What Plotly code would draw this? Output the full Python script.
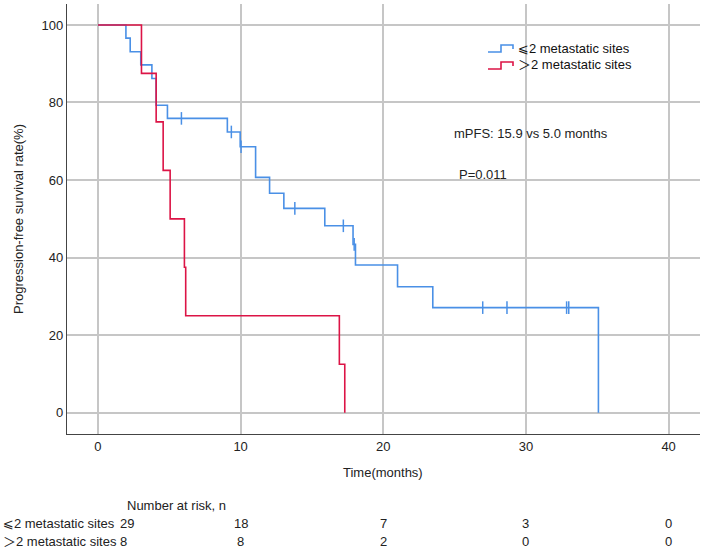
import plotly.graph_objects as go

# ---------------- data ----------------
blue_time = [0, 1.96, 2.26, 3.0, 3.78, 4.08, 4.87, 9.07, 9.97, 11.05, 12.03, 13.03, 15.9, 17.88, 18.05, 21.0, 23.47, 35.08]
blue_surv = [100, 96.6, 93.1, 89.7, 86.2, 79.3, 75.9, 72.4, 68.6, 60.7, 56.6, 52.7, 48.2, 43.4, 38.1, 32.5, 27.1, 0]
blue_cens_time = [5.85, 9.35, 10.03, 13.8, 17.2, 17.96, 26.97, 28.67, 32.85, 33.0]
blue_cens_surv = [75.9, 72.4, 68.6, 52.7, 48.2, 43.4, 27.1, 27.1, 27.1, 27.1]

red_time = [0, 3.05, 4.08, 4.57, 5.06, 6.06, 6.15, 16.92, 17.3]
red_surv = [100, 87.5, 75, 62.5, 50, 37.5, 25, 12.5, 0]

x_ticks = [0, 10, 20, 30, 40]
y_ticks = [0, 20, 40, 60, 80, 100]

group_labels = ["⩽2 metastatic sites", "＞2 metastatic sites"]
risk_times = [0, 10, 20, 30, 40]
risk_blue = [29, 18, 7, 3, 0]
risk_red = [8, 8, 2, 0, 0]

BLUE = "#4a90e6"
RED = "#dc1446"
FONT = "Liberation Sans, Arial, DejaVu Sans, Noto Sans CJK SC, sans-serif"

W, H = 704, 553
L, R, T, B = 67, 4, 4, 119
PW, PH = W - L - R, H - T - B


def px(x):
    return (x - L) / PW


def py(y):
    return (H - B - y) / PH


fig = go.Figure()
fig.add_trace(go.Scatter(x=blue_time, y=blue_surv, mode="lines", line_shape="hv",
                         line=dict(color=BLUE, width=1.6), showlegend=False, hoverinfo="skip"))
fig.add_trace(go.Scatter(x=blue_cens_time, y=blue_cens_surv, mode="markers",
                         marker=dict(symbol="line-ns", size=9, line=dict(color=BLUE, width=1.5)),
                         showlegend=False, hoverinfo="skip"))
fig.add_trace(go.Scatter(x=red_time, y=red_surv, mode="lines", line_shape="hv",
                         line=dict(color=RED, width=1.6), showlegend=False, hoverinfo="skip"))

axis_common = dict(showgrid=True, gridcolor="#c6c6c6", gridwidth=1.5, zeroline=False,
                   showline=True, linecolor="#444444", linewidth=1.2, ticks="",
                   tickfont=dict(family=FONT, size=13, color="#222222"), mirror=False)

fig.update_layout(
    width=W, height=H,
    margin=dict(l=L, r=R, t=T, b=B),
    paper_bgcolor="white", plot_bgcolor="white",
    font=dict(family=FONT, size=13, color="#222222"),
    xaxis=dict(range=[-2.17, 42.2], tickvals=x_ticks, **axis_common),
    yaxis=dict(range=[-5.49, 105.4], tickvals=y_ticks, **axis_common),
)

ann = []
# axis titles
ann.append(dict(text="Time(months)", x=px(383), y=py(472), xref="paper", yref="paper",
                showarrow=False, xanchor="center", yanchor="middle", font=dict(size=13)))
ann.append(dict(text="Progression-free survival rate(%)", x=px(18), y=py(219), xref="paper", yref="paper",
                showarrow=False, xanchor="center", yanchor="middle", textangle=-90, font=dict(size=13)))
# text notes
ann.append(dict(text="mPFS: 15.9 vs 5.0 months", x=px(452), y=py(133), xref="paper", yref="paper",
                showarrow=False, xanchor="left", yanchor="middle", font=dict(size=13)))
ann.append(dict(text="P=0.011", x=px(457), y=py(174), xref="paper", yref="paper",
                showarrow=False, xanchor="left", yanchor="middle", font=dict(size=13)))
# custom legend
legend_rows = [(48, BLUE, group_labels[0]), (65, RED, group_labels[1])]
shapes = []
for yy, col, lab in legend_rows:
    path = "M {} {} L {} {} L {} {} L {} {} L {} {}".format(
        px(488), py(yy + 4), px(501), py(yy + 4), px(501), py(yy - 3), px(513), py(yy - 3), px(513), py(yy + 1))
    shapes.append(dict(type="path", path=path, xref="paper", yref="paper",
                       line=dict(color=col, width=1.6)))
    ann.append(dict(text=lab, x=px(516), y=py(yy), xref="paper", yref="paper",
                    showarrow=False, xanchor="left", yanchor="middle", font=dict(size=13, color="#111111")))

# number at risk table
ann.append(dict(text="Number at risk, n", x=px(125), y=py(505), xref="paper", yref="paper",
                showarrow=False, xanchor="left", yanchor="middle", font=dict(size=13)))
for row_y, lab, vals in [(523, group_labels[0], risk_blue), (541, group_labels[1], risk_red)]:
    ann.append(dict(text=lab, x=px(1), y=py(row_y), xref="paper", yref="paper",
                    showarrow=False, xanchor="left", yanchor="middle", font=dict(size=13)))
    for t, v in zip(risk_times, vals):
        if t == 0:
            ann.append(dict(text=str(v), x=px(118), y=py(row_y), xref="paper", yref="paper",
                            showarrow=False, xanchor="left", yanchor="middle", font=dict(size=13)))
        else:
            ann.append(dict(text=str(v), x=t, y=py(row_y), xref="x", yref="paper",
                            showarrow=False, xanchor="center", yanchor="middle", font=dict(size=13)))

fig.update_layout(annotations=ann, shapes=shapes)
fig.write_html("out.html")
